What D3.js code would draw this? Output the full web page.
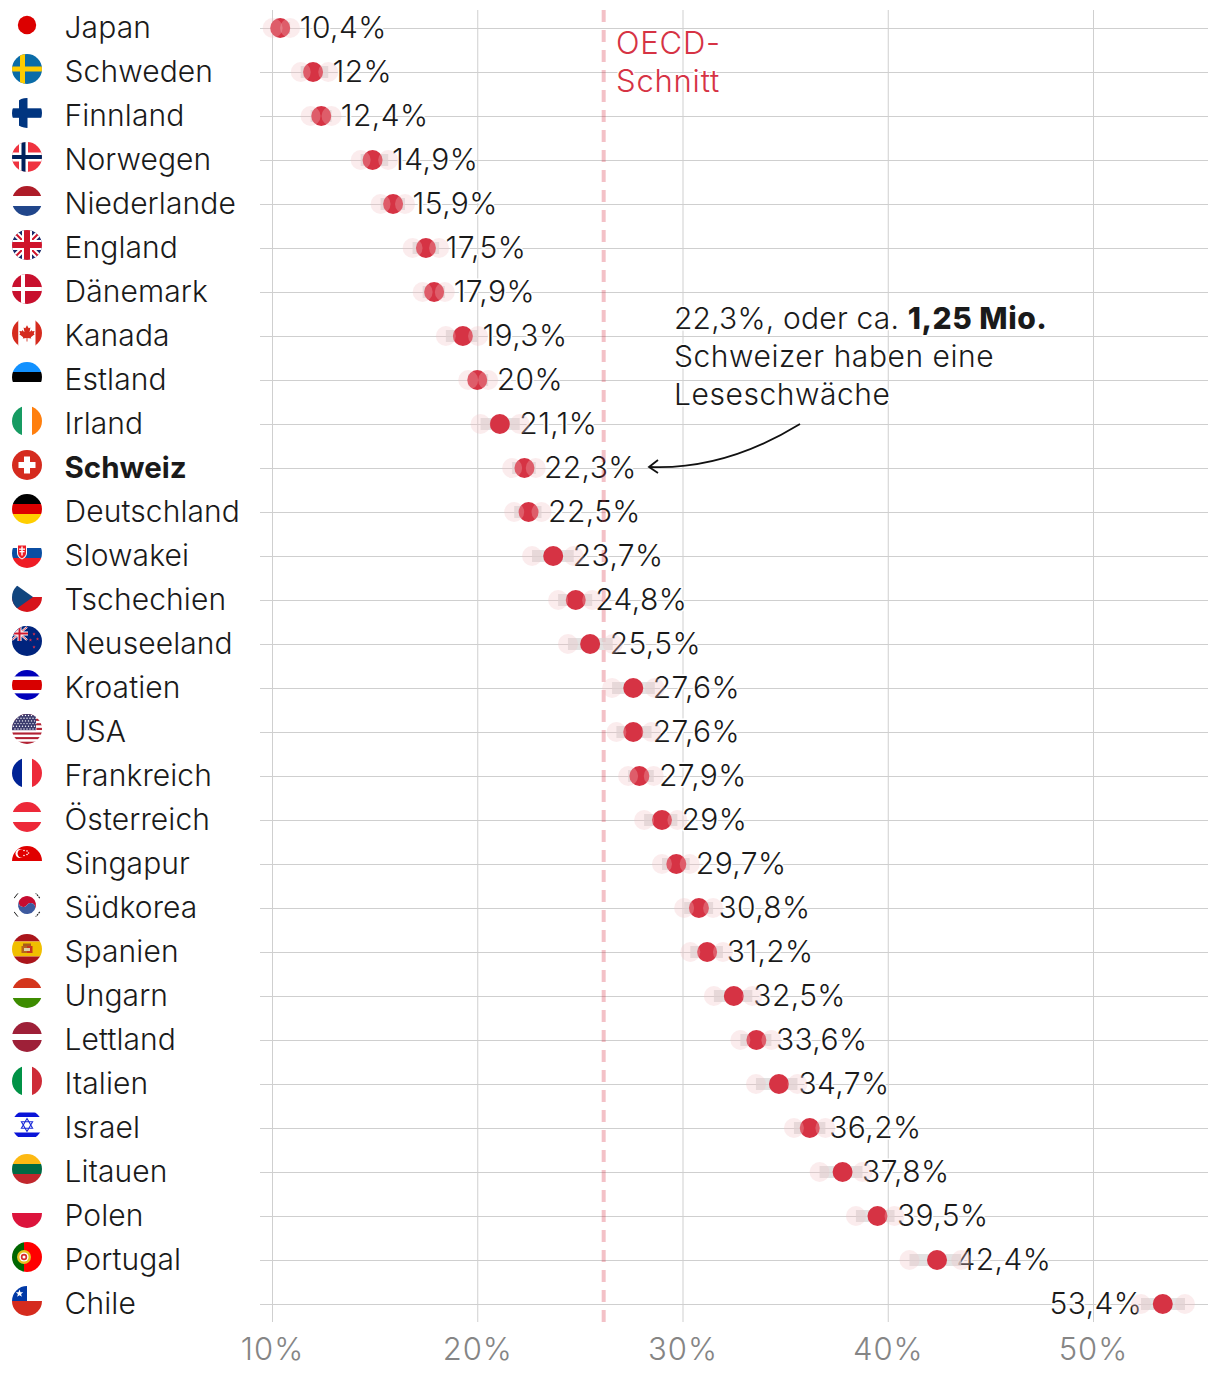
<!DOCTYPE html>
<html lang="de"><head><meta charset="utf-8">
<style>
html,body{margin:0;padding:0;background:#fff}
svg{display:block}
text{font-family:Inter,"Noto Sans",sans-serif;font-weight:350;fill:#1a1a1a}
</style>
<script src="https://cdn.jsdelivr.net/npm/d3@7"></script>
</head><body><svg id="c" width="1220" height="1374"></svg>
<script>
const countries=["Japan","Schweden","Finnland","Norwegen","Niederlande","England","Dänemark","Kanada","Estland","Irland","Schweiz","Deutschland","Slowakei","Tschechien","Neuseeland","Kroatien","USA","Frankreich","Österreich","Singapur","Südkorea","Spanien","Ungarn","Lettland","Italien","Israel","Litauen","Polen","Portugal","Chile"];
const values=[10.4,12,12.4,14.9,15.9,17.5,17.9,19.3,20,21.1,22.3,22.5,23.7,24.8,25.5,27.6,27.6,27.9,29,29.7,30.8,31.2,32.5,33.6,34.7,36.2,37.8,39.5,42.4,53.4];
const lows=[10.03,11.4,11.88,14.32,15.29,16.85,17.34,18.47,19.56,20.16,21.7,21.8,22.67,23.94,24.42,26.57,26.78,27.35,28.13,29.0,30.08,30.38,31.53,32.82,33.58,35.43,36.68,38.45,41.06,52.34];
const highs=[10.88,12.74,12.9,15.66,16.48,18.14,18.42,20.04,20.53,22.07,22.85,23.13,24.7,25.6,26.6,28.65,28.49,28.6,29.75,30.35,31.49,31.97,33.4,34.33,35.6,36.96,38.77,40.33,43.58,54.48];
const oecdMean=26.16;
const xTicks=[10,20,30,40,50];
const annotationLines=[["22,3%, oder ca. ",false],["1,25 Mio.",true]];
const annotationRest=["Schweizer haben eine","Leseschwäche"];
const oecdLabel=["OECD-","Schnitt"];

const RED="#d63344",GRID="#cfcfcf",FS=30;
const svg=d3.select("#c");
const x=d3.scaleLinear().domain([10,50]).range([272,1093]);
const y=d3.scalePoint().domain(countries).range([28,1304]);
const rows=countries.map((c,i)=>({c,v:values[i],lo:lows[i],hi:highs[i]}));

// grid
const gx=svg.append("g").attr("transform","translate(0,1322)")
  .call(d3.axisBottom(x).tickValues(xTicks).tickSize(-1312).tickFormat(d=>d+"%"));
gx.select(".domain").remove();
gx.selectAll(".tick line").attr("stroke",GRID);
gx.selectAll(".tick text").attr("y",0).attr("dy",38).style("font-size","31px").style("letter-spacing","1px").style("fill","#858585").style("font-family","Inter").style("font-weight",300);
const gy=svg.append("g").attr("transform","translate(260,0)")
  .call(d3.axisRight(y).tickSize(948).tickFormat(""));
gy.select(".domain").remove();
gy.selectAll(".tick line").attr("stroke",GRID);

const halo=s=>s.style("paint-order","stroke").attr("stroke","#fff").attr("stroke-width",3).attr("stroke-linejoin","round");

// country labels
svg.append("g").selectAll("text").data(rows).join("text")
  .attr("x",64.5).attr("y",d=>y(d.c)+10).style("font-size",d=>d.c==="Schweiz"?"29.5px":FS+"px")
  .style("letter-spacing",d=>d.c==="Schweiz"?"0":".1px")
  .style("font-weight",d=>d.c==="Schweiz"?700:350).text(d=>d.c);

// value labels
svg.append("g").selectAll("text").data(rows).join("text")
  .attr("x",d=>d.v>50?x(d.v)-20.5:x(d.v)+19.5)
  .attr("text-anchor",d=>d.v>50?"end":"start")
  .attr("y",d=>y(d.c)+10).style("font-size",FS+"px").style("letter-spacing",".4px")
  .text(d=>String(d.v).replace(".",",")+"%").call(halo);

// annotation
const ann=svg.append("g").style("font-size",FS+"px");
const t1=ann.append("text").attr("x",674).attr("y",329).call(halo);
t1.selectAll("tspan").data(annotationLines).join("tspan").style("font-weight",d=>d[1]?800:350).style("letter-spacing",d=>d[1]?".5px":".2px").text(d=>d[0]);
ann.selectAll("text.r").data(annotationRest).join("text").attr("class","r").attr("x",674).attr("y",(d,i)=>367+38*i).style("letter-spacing",".55px").text(d=>d).call(halo);
svg.append("path").attr("d","M800,424Q725,470 650,467").attr("fill","none").attr("stroke","#111").attr("stroke-width",1.8);
svg.append("path").attr("d","M658,460L649,467L658,473").attr("fill","none").attr("stroke","#111").attr("stroke-width",1.8);

// OECD
svg.selectAll("text.o").data(oecdLabel).join("text").attr("class","o").attr("x",616).attr("y",(d,i)=>53.5+38*i)
  .style("font-size","31px").style("letter-spacing",".8px").style("fill",RED).text(d=>d).call(halo);
svg.append("line").attr("x1",x(oecdMean)).attr("x2",x(oecdMean)).attr("y1",10).attr("y2",1322)
  .attr("stroke",RED).attr("stroke-opacity",.3).attr("stroke-width",4).attr("stroke-dasharray","12 8");

// marks
const m=svg.append("g");
m.selectAll("rect").data(rows).join("rect").attr("x",d=>x(d.lo)).attr("width",d=>x(d.hi)-x(d.lo))
  .attr("y",d=>y(d.c)-6).attr("height",12).attr("fill","rgb(215,213,213)").attr("opacity",.7);
m.selectAll("circle.d").data(rows).join("circle").attr("class","d").attr("cx",d=>x(d.v)).attr("cy",d=>y(d.c)).attr("r",10).attr("fill",RED);
m.selectAll("circle.l").data(rows.flatMap(d=>[{c:d.c,p:d.lo},{c:d.c,p:d.hi}])).join("circle").attr("class","l")
  .attr("cx",d=>x(d.p)).attr("cy",d=>y(d.c)).attr("r",10).attr("fill","rgb(243,191,197)").attr("opacity",.3);

// flags
const defs=svg.append("defs");
defs.append("clipPath").attr("id","fc").append("circle").attr("r",15);
const R=(g,x0,y0,w,h,f)=>g.append("rect").attr("x",x0).attr("y",y0).attr("width",w).attr("height",h).attr("fill",f);
const P=(g,d,f,s,sw)=>g.append("path").attr("d",d).attr("fill",f||"none").attr("stroke",s||"none").attr("stroke-width",sw||0);
const C=(g,cx,cy,r,f)=>g.append("circle").attr("cx",cx).attr("cy",cy).attr("r",r).attr("fill",f);
const H=(g,list)=>{let t=-15,tot=d3.sum(list,d=>d[1]);list.forEach(([f,w])=>{const h=w/tot*30;R(g,-15,t,30,h,f);t+=h;});};
const V=(g,list)=>{let t=-15,tot=d3.sum(list,d=>d[1]);list.forEach(([f,w])=>{const h=w/tot*30;R(g,t,-15,h,30,f);t+=h;});};
const star=(g,cx,cy,r,f)=>{const pts=d3.range(10).map(i=>{const a=-Math.PI/2+i*Math.PI/5,q=i%2?r*.42:r;return [cx+q*Math.cos(a),cy+q*Math.sin(a)];});P(g,"M"+pts.join("L")+"Z",f);};
const uk=(g,s)=>{
  P(g,"M-15,-15L15,15M15,-15L-15,15","none","#fff",6*s);
  P(g,"M-15,-15L15,15M15,-15L-15,15","none","#cf142b",2*s);
  R(g,-15,-5,30,10,"#fff");R(g,-5,-15,10,30,"#fff");
  R(g,-15,-3,30,6,"#cf142b");R(g,-3,-15,6,30,"#cf142b");
};
const flags={
 Japan:g=>C(g,0,0,9.2,"#dc0000"),
 Schweden:g=>{R(g,-15,-15,30,30,"#0a6ca8");R(g,-15,-2.5,30,5,"#fecc00");R(g,-7,-15,5,30,"#fecc00");},
 Finnland:g=>{R(g,-8,-15,8.5,30,"#003580");R(g,-15,-4.7,30,9.5,"#003580");},
 Norwegen:g=>{R(g,-15,-15,30,30,"#ef3340");R(g,-15,-4.5,30,9,"#fff");R(g,-8,-15,9,30,"#fff");R(g,-15,-2,30,4,"#00205b");R(g,-5.5,-15,4,30,"#00205b");},
 Niederlande:g=>H(g,[["#ae1c28",1],["#fff",1],["#21468b",1]]),
 England:g=>{R(g,-15,-15,30,30,"#1b2a6b");uk(g,1);},
 "Dänemark":g=>{R(g,-15,-15,30,30,"#c8102e");R(g,-15,-2,30,4,"#fff");R(g,-6,-15,4,30,"#fff");},
 Kanada:g=>{V(g,[["#d52b1e",6.5],["#fff",17],["#d52b1e",6.5]]);P(g,"M0,-9L2,-5.5L4,-6.5L3,-1L5.5,-3.5L6,-2L9,-2.5L8,0.5L9,1.5L4.5,5L5,6.5L0.5,6L0.5,10L-0.5,10L-0.5,6L-5,6.5L-4.5,5L-9,1.5L-8,0.5L-9,-2.5L-6,-2L-5.5,-3.5L-3,-1L-4,-6.5L-2,-5.5Z","#d52b1e").attr("transform","scale(.85)");},
 Estland:g=>H(g,[["#1291ff",1],["#000",1],["#fff",1]]),
 Irland:g=>V(g,[["#169b62",1],["#fff",1],["#ff7f0e",1]]),
 Schweiz:g=>{R(g,-15,-15,30,30,"#d52b1e");R(g,-8.5,-3,17,6,"#fff");R(g,-3,-8.5,6,17,"#fff");},
 Deutschland:g=>H(g,[["#000",1],["#dd0000",1],["#ffce00",1]]),
 Slowakei:g=>{H(g,[["#fff",1],["#0b4ea2",1],["#ee1c25",1]]);P(g,"M-10,-8.5H0V0C0,3.5 -3,5.5 -5,6.5C-7,5.5 -10,3.5 -10,0Z","#fff");P(g,"M-9,-7.5H-1V0C-1,3 -3.5,4.5 -5,5.5C-6.5,4.5 -9,3 -9,0Z","#ee1c25");R(g,-5.7,-6.5,1.4,9,"#fff");R(g,-8,-4.5,6,1.3,"#fff");R(g,-7.5,-2,5,1.3,"#fff");},
 Tschechien:g=>{H(g,[["#fff",1],["#d7141a",1]]);P(g,"M-15,-15L6,0L-15,15Z","#11457e");},
 Neuseeland:g=>{R(g,-15,-15,30,30,"#00247d");const u=g.append("g");u.append("rect").attr("x",-15).attr("y",-15).attr("width",15).attr("height",15).attr("fill","#00247d");
   P(u,"M-15,-14L0,-1M0,-14L-15,-1","none","#fff",2.2);P(u,"M-15,-14L0,-1M0,-14L-15,-1","none","#cf142b",.8);R(u,-15,-9.5,16,4,"#fff");R(u,-9.5,-15,4,15,"#fff");R(u,-15,-8.5,16,2,"#cf142b");R(u,-8.5,-15,2,15,"#cf142b");
   [[7,-7],[10.5,-2],[3.5,-1],[7,6]].forEach(p=>star(g,p[0],p[1],1.7,"#e0314a"));},
 Kroatien:g=>H(g,[["#0000bb",2],["#fff",1],["#d80000",3],["#fff",1],["#0000bb",2]]),
 USA:g=>{H(g,d3.range(13).map(i=>[i%2?"#fff":"#b22234",1]));R(g,-15,-15,24,16.2,"#3c3b6e");d3.range(0,6).forEach(r=>d3.range(0,8).forEach(c=>C(g,-13.5+c*3+(r%2)*1.5,-13.5+r*2.7,.7,"#fff")));},
 Frankreich:g=>V(g,[["#002395",1],["#fff",1],["#ed2939",1]]),
 "Österreich":g=>H(g,[["#ed2939",1],["#fff",1],["#ed2939",1]]),
 Singapur:g=>{H(g,[["#e00000",1],["#fff",1]]);C(g,-7,-7.5,4.5,"#fff");C(g,-5.2,-7.5,4.2,"#e00000");[[-4,-10.5],[-1,-10],[-1,-6.5],[-4,-5.5],[0.5,-8]].forEach(p=>C(g,p[0]+1,p[1],.8,"#fff"));},
 "Südkorea":g=>{P(g,"M-7.5,-5A9,9 0 0 1 7.5,5A4.5,4.5 0 0 0 0,0A4.5,4.5 0 0 1 -7.5,-5Z","#c60c30");P(g,"M-7.5,-5A9,9 0 0 0 7.5,5A4.5,4.5 0 0 0 0,0A4.5,4.5 0 0 1 -7.5,-5Z","#3d5a9f");
   P(g,"M-13,-7L-9,-12M-13,7L-9,12","none","#111",1.2);P(g,"M13,-7L9,-12M13,7L9,12","none","#222",1.6).attr("stroke-dasharray","2 .8");},
 Spanien:g=>{H(g,[["#aa151b",1],["#f1bf00",2],["#aa151b",1]]);R(g,-5.5,-3,5.5,7,"#b5651d");R(g,0,-3,5.5,7,"#c8341f");R(g,-4,-5.5,8,2.5,"#a85b19");R(g,-3,-1,6,3,"#ddd1a8");},
 Ungarn:g=>H(g,[["#d4351c",1],["#fff",1],["#3d8c00",1]]),
 Lettland:g=>H(g,[["#9e2038",2],["#fff",1],["#9e2038",2]]),
 Italien:g=>V(g,[["#009246",1],["#fff",1],["#ce2b37",1]]),
 Israel:g=>{H(g,[["#fff",1]]);R(g,-15,-12.5,30,4.5,"#0a14d8");R(g,-15,7.5,30,4.5,"#0a14d8");P(g,"M0,-6.5L5.6,3.2H-5.6ZM0,6.5L-5.6,-3.2H5.6Z","none","#1a2ad8",1.1);},
 Litauen:g=>H(g,[["#fdb913",1],["#006a44",1],["#c1272d",1]]),
 Polen:g=>H(g,[["#fff",1],["#dc143c",1]]),
 Portugal:g=>{V(g,[["#006600",2],["#ff0000",3]]);C(g,-3,0,7,"#e8c020");C(g,-3,0,4.6,"#fff");C(g,-3,0,3.2,"#d62b2b");C(g,-3,0,1.5,"#fff");},
 Chile:g=>{H(g,[["#fff",1],["#d52b1e",1]]);R(g,-15,-15,15,15,"#0039a6");star(g,-7.5,-7.5,4,"#fff");}
};
const fg=svg.append("g");
rows.forEach(d=>{
  const g=fg.append("g").attr("transform",`translate(27,${y(d.c)-3})`).append("g").attr("clip-path","url(#fc)");
  flags[d.c](g);
});
</script></body></html>
